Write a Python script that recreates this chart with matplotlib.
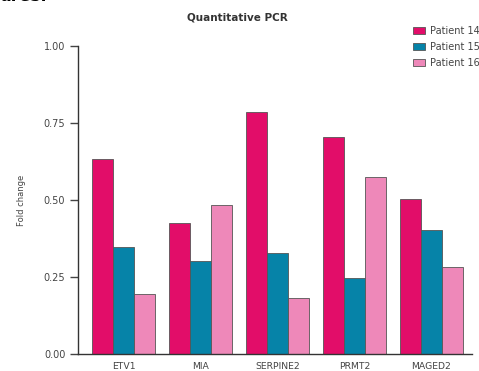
import matplotlib.pyplot as plt
import numpy as np

plt.rcParams['font.family'] = ['DejaVu Sans']

# Datos
genes = ['ETV1', 'MIA', 'SERPINE2', 'PRMT2', 'MAGED2']
patient14 = [0.633, 0.425, 0.787, 0.705, 0.502]
patient15 = [0.348, 0.302, 0.327, 0.248, 0.403]
patient16 = [0.194, 0.484, 0.182, 0.574, 0.282]
series_names = ['Patient 14', 'Patient 15', 'Patient 16']
colors = ['#E20D69', '#0683A8', '#EE88B9']

fig = plt.figure(figsize=(4.79, 3.71), dpi=100)
ax = fig.add_axes([0.1618, 0.0458, 0.8236, 0.8302])

x = np.arange(len(genes))
width = 0.273
for i, (vals, name, c) in enumerate(zip([patient14, patient15, patient16], series_names, colors)):
    ax.bar(x + (i - 1) * width, vals, width, color=c, edgecolor='#555555',
           linewidth=0.6, label=name)

ax.set_xlim(-0.597, 4.526)
ax.set_ylim(0, 1.0)
ax.set_yticks([0, 0.25, 0.5, 0.75, 1.0])
ax.set_yticklabels(['0.00', '0.25', '0.50', '0.75', '1.00'])
ax.set_xticks(x)
ax.set_xticklabels(genes)
ax.tick_params(axis='y', direction='out', length=5.8, width=1, labelsize=7, colors='#444444', pad=3)
ax.tick_params(axis='x', length=0, labelsize=6.7, colors='#444444', pad=6)

for s in ['top', 'right']:
    ax.spines[s].set_visible(False)
for s in ['left', 'bottom']:
    ax.spines[s].set_color('#333333')
    ax.spines[s].set_linewidth(1)

ax.set_ylabel('Fold change', fontsize=6, color='#444444', labelpad=13)

fig.text(237 / 479, 1 - 17 / 371, 'Quantitative PCR', ha='center', va='center',
         fontsize=7.5, fontweight='bold', color='#333333')

# texto recortado en la esquina superior
fig.text(0.0, 1 - 1 / 371, 'ures:', ha='left', va='baseline', fontsize=12,
         fontweight='bold', color='black')

leg = fig.legend(loc='upper left', bbox_to_anchor=(409 / 479, 1 - 22 / 371),
                 frameon=False, fontsize=7, handlelength=1.2, handleheight=0.7,
                 handletextpad=0.6, labelspacing=0.62, borderaxespad=0)
for t in leg.get_texts():
    t.set_color('#444444')

plt.savefig('out.png', dpi=100)
plt.close()
